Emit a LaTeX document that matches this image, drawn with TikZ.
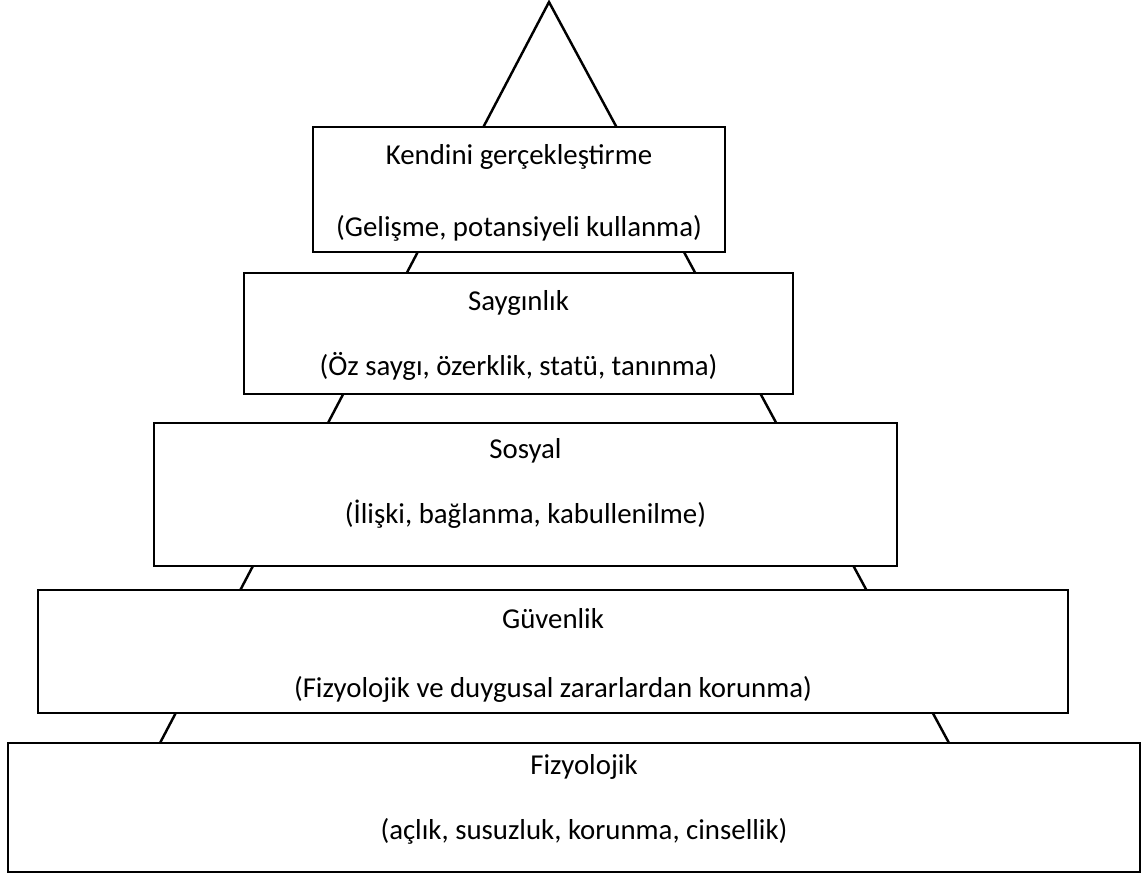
\documentclass[tikz,border=0pt]{standalone}
\usepackage{fontspec}
\setmainfont{Carlito}
\usetikzlibrary{positioning}
\tikzset{
    level/.style={draw,fill=white,rectangle,inner sep=0pt},
    lbl/.style={font=\fontsize{16.4}{19}\selectfont,inner sep=0pt,anchor=center},
}
\begin{document}
\begin{tikzpicture}[line width=1.4pt]
        \useasboundingbox (0,0) rectangle (22.94,-17.48);
        %% Pyramid sides
        \coordinate (apex) at (10.98,-0.04);
        \coordinate (baseleft) at (3.2,-14.86);
        \coordinate (baseright) at (18.98,-14.86);
        \draw[line join=miter] (baseleft) -- (apex) -- (baseright);
        %% Levels
        \node[level,minimum width=8.24cm,minimum height=2.5cm] (kendini) at (10.38,-3.79) {};
        \node[level,minimum width=10.98cm,minimum height=2.42cm] (saygi) at (10.37,-6.67) {};
        \node[level,minimum width=14.86cm,minimum height=2.86cm] (sosyal) at (10.51,-9.89) {};
        \node[level,minimum width=20.6cm,minimum height=2.46cm] (guven) at (11.06,-13.03) {};
        \node[level,minimum width=22.64cm,minimum height=2.58cm] (fizyo) at (11.48,-16.15) {};
        %% Labels
        \node[lbl] (kendini-a) at ([yshift=-0.62cm]kendini.north) {Kendini gerçekleştirme};
        \node[lbl] (kendini-b) at ([yshift=0.5cm]kendini.south) {(Gelişme, potansiyeli kullanma)};
        \node[lbl] (saygi-a) at ([yshift=-0.62cm]saygi.north) {Saygınlık};
        \node[lbl] (saygi-b) at ([yshift=0.58cm]saygi.south) {(Öz saygı, özerklik, statü, tanınma)};
        \node[lbl] (sosyal-a) at ([yshift=-0.58cm]sosyal.north) {Sosyal};
        \node[lbl] (sosyal-b) at ([yshift=1.06cm]sosyal.south) {(İlişki, bağlanma, kabullenilme)};
        \node[lbl] (guven-a) at ([yshift=-0.6cm]guven.north) {Güvenlik};
        \node[lbl] (guven-b) at ([yshift=0.5cm]guven.south) {(Fizyolojik ve duygusal zararlardan korunma)};
        \node[lbl] (fizyo-a) at ([yshift=-0.5cm,xshift=0.2cm]fizyo.north) {Fizyolojik};
        \node[lbl] (fizyo-b) at ([yshift=0.84cm,xshift=0.2cm]fizyo.south) {(açlık, susuzluk, korunma, cinsellik)};
\end{tikzpicture}
\end{document}
